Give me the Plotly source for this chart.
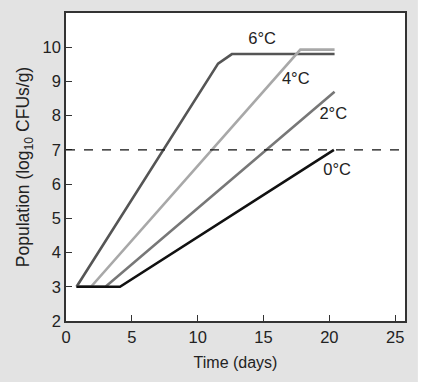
import plotly.graph_objects as go

# Data
t6 = [0.8, 11.55, 12.6, 20.4]
p6 = [3.0, 9.52, 9.8, 9.8]
t4 = [0.8, 1.9, 17.8, 20.4]
p4 = [3.0, 3.0, 9.93, 9.93]
t2 = [0.8, 3.0, 20.4]
p2 = [3.0, 3.0, 8.7]
t0 = [0.8, 4.1, 20.35]
p0 = [3.0, 3.0, 7.0]
threshold = 7.0
label_text = ["6°C", "4°C", "2°C", "0°C"]
label_x = [14.9, 17.45, 20.3, 20.6]
label_y = [10.22, 9.04, 8.02, 6.4]

series = [
    (t6, p6, "#555555"),
    (t4, p4, "#a8a8a8"),
    (t2, p2, "#777777"),
    (t0, p0, "#111111"),
]

fig = go.Figure()
fig.add_hline(y=threshold, line=dict(color="#111111", width=1.2, dash="dash"))
for tx, py, col in series:
    fig.add_trace(go.Scatter(x=tx, y=py, mode="lines",
                             line=dict(color=col, width=2.6), showlegend=False,
                             hoverinfo="skip"))
fig.add_trace(go.Scatter(x=label_x, y=label_y, mode="text", text=label_text,
                         textfont=dict(size=16.5, color="#222222"),
                         showlegend=False, hoverinfo="skip"))

axis_common = dict(
    showline=True, mirror=True, linecolor="#333333", linewidth=1.6,
    ticks="inside", ticklen=6, tickwidth=1.4, tickcolor="#333333",
    showgrid=False, zeroline=False, automargin=False,
    tickfont=dict(size=16.5, color="#222222"),
)
fig.update_xaxes(range=[0, 25.75], tickvals=[0, 5, 10, 15, 20, 25],
                 title=dict(text="Time (days)", font=dict(size=16, color="#222222"), standoff=12),
                 **axis_common)
fig.update_yaxes(range=[2, 11], tickvals=[2, 3, 4, 5, 6, 7, 8, 9, 10],
                 title=dict(text="Population (log<sub>10</sub> CFUs/g)",
                            font=dict(size=17.5, color="#222222"), standoff=8),
                 **axis_common)

fig.add_shape(type="rect", xref="paper", yref="paper", x0=1.038, x1=1.2, y0=-0.3, y1=1.1,
              fillcolor="white", line=dict(width=0), layer="above")

fig.update_layout(
    width=421, height=382,
    margin=dict(l=66, r=16, t=13, b=61),
    paper_bgcolor="#e3e3e3", plot_bgcolor="white",
    font=dict(family="Liberation Sans, Arial, sans-serif"),
)
fig.write_html("out.html", config={"displayModeBar": False},
               post_script="document.body.style.margin='0';document.body.style.overflow='hidden';")
